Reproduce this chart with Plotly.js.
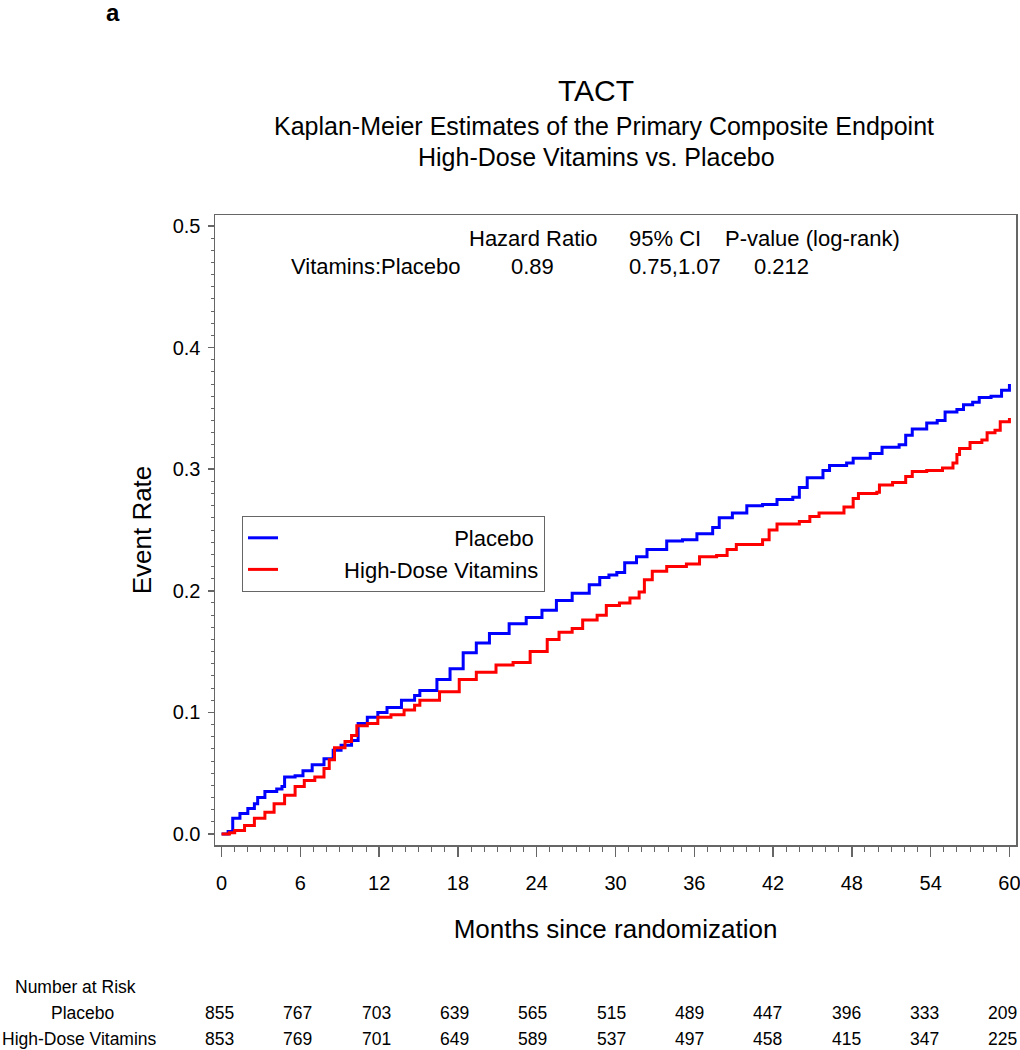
<!DOCTYPE html>
<html>
<head>
<meta charset="utf-8">
<script src="https://cdn.plot.ly/plotly-3.0.1.min.js"></script>
<style>html,body{margin:0;padding:0;background:#fff;}#chart{width:1020px;height:1050px;}</style>
</head>
<body>
<div id="chart"></div>
<script>
// Kaplan-Meier curve values (months, cumulative event rate)
const monthsPlacebo = [0,0.5,0.85,1.4,2,2.5,2.75,3.3,4.2,4.6,4.8,5.6,6.2,6.9,7.8,8.5,9.1,9.9,10.4,11.1,11.9,12.6,13.7,14.7,15.1,16.4,17.4,18.4,19.4,20.4,21.9,23.2,24.4,25.5,26.7,28,28.8,29.5,30.1,30.7,31.6,32.4,33.9,35.1,36.2,37.4,37.9,38.9,40,41.2,42.3,43.5,44,44.6,45.8,46.3,47.6,48.1,49.4,50.3,51.6,52.1,52.6,53.7,54.5,55.1,56,56.5,57.2,57.7,58.6,59.4,60];
const ratePlacebo   = [0,0.002,0.013,0.017,0.021,0.025,0.030,0.035,0.037,0.039,0.047,0.048,0.052,0.057,0.062,0.069,0.073,0.077,0.091,0.096,0.100,0.104,0.110,0.114,0.118,0.127,0.136,0.149,0.157,0.165,0.173,0.178,0.184,0.192,0.198,0.205,0.211,0.213,0.215,0.223,0.228,0.234,0.241,0.242,0.247,0.252,0.260,0.264,0.270,0.271,0.275,0.277,0.285,0.293,0.299,0.303,0.305,0.309,0.313,0.318,0.320,0.328,0.333,0.338,0.340,0.347,0.349,0.353,0.355,0.359,0.360,0.365,0.370];

const monthsVitamins = [0,0.6,1,1.75,2.5,3.3,4,4.8,5.6,6.3,7.1,7.8,8.2,8.6,9.4,9.9,10.3,11.1,11.9,12.9,13.9,14.7,15.1,16.6,18.1,19.4,20.9,22.2,23.5,24.8,25.7,26.7,27.5,28.6,29.3,30.3,31.1,31.8,32.2,32.8,33.9,35.4,36.4,37.7,38.5,39.2,41.2,41.7,42.3,44,44.8,45.5,47.4,48.1,48.5,49.9,50.1,51.1,52.1,52.6,53.7,54.9,55.7,56,56.2,57,57.9,58.3,58.9,59.3,60];
const rateVitamins   = [0,0.001,0.003,0.007,0.013,0.018,0.025,0.032,0.039,0.044,0.047,0.054,0.061,0.071,0.076,0.081,0.089,0.091,0.096,0.098,0.102,0.106,0.110,0.117,0.127,0.133,0.139,0.141,0.150,0.160,0.166,0.169,0.176,0.180,0.188,0.190,0.194,0.199,0.209,0.216,0.220,0.222,0.228,0.229,0.234,0.238,0.242,0.250,0.255,0.257,0.261,0.264,0.269,0.276,0.280,0.281,0.287,0.289,0.294,0.298,0.299,0.301,0.305,0.312,0.317,0.322,0.324,0.330,0.332,0.339,0.342];

// Number at risk table
const riskMonths   = [0,6,12,18,24,30,36,42,48,54,60];
const riskPlacebo  = [855,767,703,639,565,515,489,447,396,333,209];
const riskVitamins = [853,769,701,649,589,537,497,458,415,347,225];

// Statistics box
const statHeader = ["Hazard Ratio","95% CI","P-value (log-rank)"];
const statRow    = ["Vitamins:Placebo","0.89","0.75,1.07","0.212"];

const seriesNames = ["Placebo","High-Dose Vitamins"];

const FONT = "Liberation Sans, Arial, sans-serif";

const NB = '\u00a0';
const traces = [
  {x: monthsPlacebo, y: ratePlacebo, type: 'scatter', mode: 'lines', line: {shape: 'hv', color: '#0000FF', width: 3},
   name: NB.repeat(28) + seriesNames[0]},
  {x: monthsVitamins, y: rateVitamins, type: 'scatter', mode: 'lines', line: {shape: 'hv', color: '#FF0000', width: 3},
   name: NB.repeat(10) + seriesNames[1]}
];

const px = v => (v - 215) / 801;   // helper: page px -> paper x
const py = v => (845 - v) / 630;   // helper: page px -> paper y

const annotations = [];
const txt = (t, x, y, xanchor, size, xref, xshift) => annotations.push({
  text: t, xref: xref || 'paper', yref: 'paper', x: x, y: y, xanchor: xanchor, yanchor: 'middle',
  xshift: xshift || 0, showarrow: false, font: {family: FONT, size: size, color: '#000'}});

// panel label
txt('<b>a</b>', px(113), py(12), 'center', 24);
// subtitles
txt('Kaplan-Meier Estimates of the Primary Composite Endpoint', px(604), py(126), 'center', 25);
txt('High-Dose Vitamins vs. Placebo', px(596), py(157), 'center', 25);
// stats block
const headerX = [467, 627, 723];
statHeader.forEach((t, i) => txt(t, px(headerX[i]), py(238), 'left', 22));
const rowX = [289, 509, 627, 752];
statRow.forEach((t, i) => txt(t, px(rowX[i]), py(266), 'left', 22));
// number at risk
txt('Number at Risk', px(75), py(987), 'center', 17.5);
txt(seriesNames[0], px(82), py(1013), 'center', 17.5);
txt(seriesNames[1], px(79), py(1039), 'center', 17.5);
riskMonths.forEach((m, i) => {
  const s = -2 - 0.45 * i;
  txt(String(riskPlacebo[i]), m, py(1013), 'center', 17.5, 'x', s);
  txt(String(riskVitamins[i]), m, py(1039), 'center', 17.5, 'x', s);
});

const axisCommon = {
  showline: true, linecolor: '#666', linewidth: 1.5, mirror: true,
  showgrid: false, zeroline: false,
  ticks: 'outside', tickcolor: '#666', tickwidth: 1.5,
  tickfont: {family: FONT, size: 20, color: '#000'},
  ticklabeloverflow: 'allow'
};

const layout = {
  width: 1020, height: 1050,
  margin: {l: 215, r: 4, t: 215, b: 205},
  paper_bgcolor: '#fff', plot_bgcolor: '#fff',
  font: {family: FONT, color: '#000'},
  title: {text: 'TACT', x: 596/1020, xanchor: 'center', xref: 'container', y: 1 - 90/1050, yanchor: 'middle', yref: 'container', font: {family: FONT, size: 30, color: '#000'}},
  xaxis: Object.assign({}, axisCommon, {
    range: [-0.5, 60.5], tick0: 0, dtick: 6, ticklen: 10, ticklabelstandoff: 9,
    minor: {dtick: 1, ticks: 'outside', ticklen: 5, tickcolor: '#666', tickwidth: 1},
    title: {text: 'Months since randomization', font: {family: FONT, size: 26, color: '#000'}, standoff: 27}
  }),
  yaxis: Object.assign({}, axisCommon, {
    range: [-0.009, 0.509], tick0: 0, dtick: 0.1, tickformat: '.1f', ticklen: 6, ticklabelstandoff: 3,
    minor: {dtick: 0.01, ticks: 'outside', ticklen: 3, tickcolor: '#666', tickwidth: 1},
    title: {text: 'Event Rate', font: {family: FONT, size: 26, color: '#000'}, standoff: 13}
  }),
  showlegend: true,
  legend: {x: px(242), y: py(516), xanchor: 'left', yanchor: 'top', bgcolor: '#fff', bordercolor: '#666', borderwidth: 1,
           font: {family: FONT, size: 22, color: '#000'}, tracegroupgap: 0},
  annotations: annotations
};

Plotly.newPlot('chart', traces, layout, {displayModeBar: false, staticPlot: true});
</script>
</body>
</html>
